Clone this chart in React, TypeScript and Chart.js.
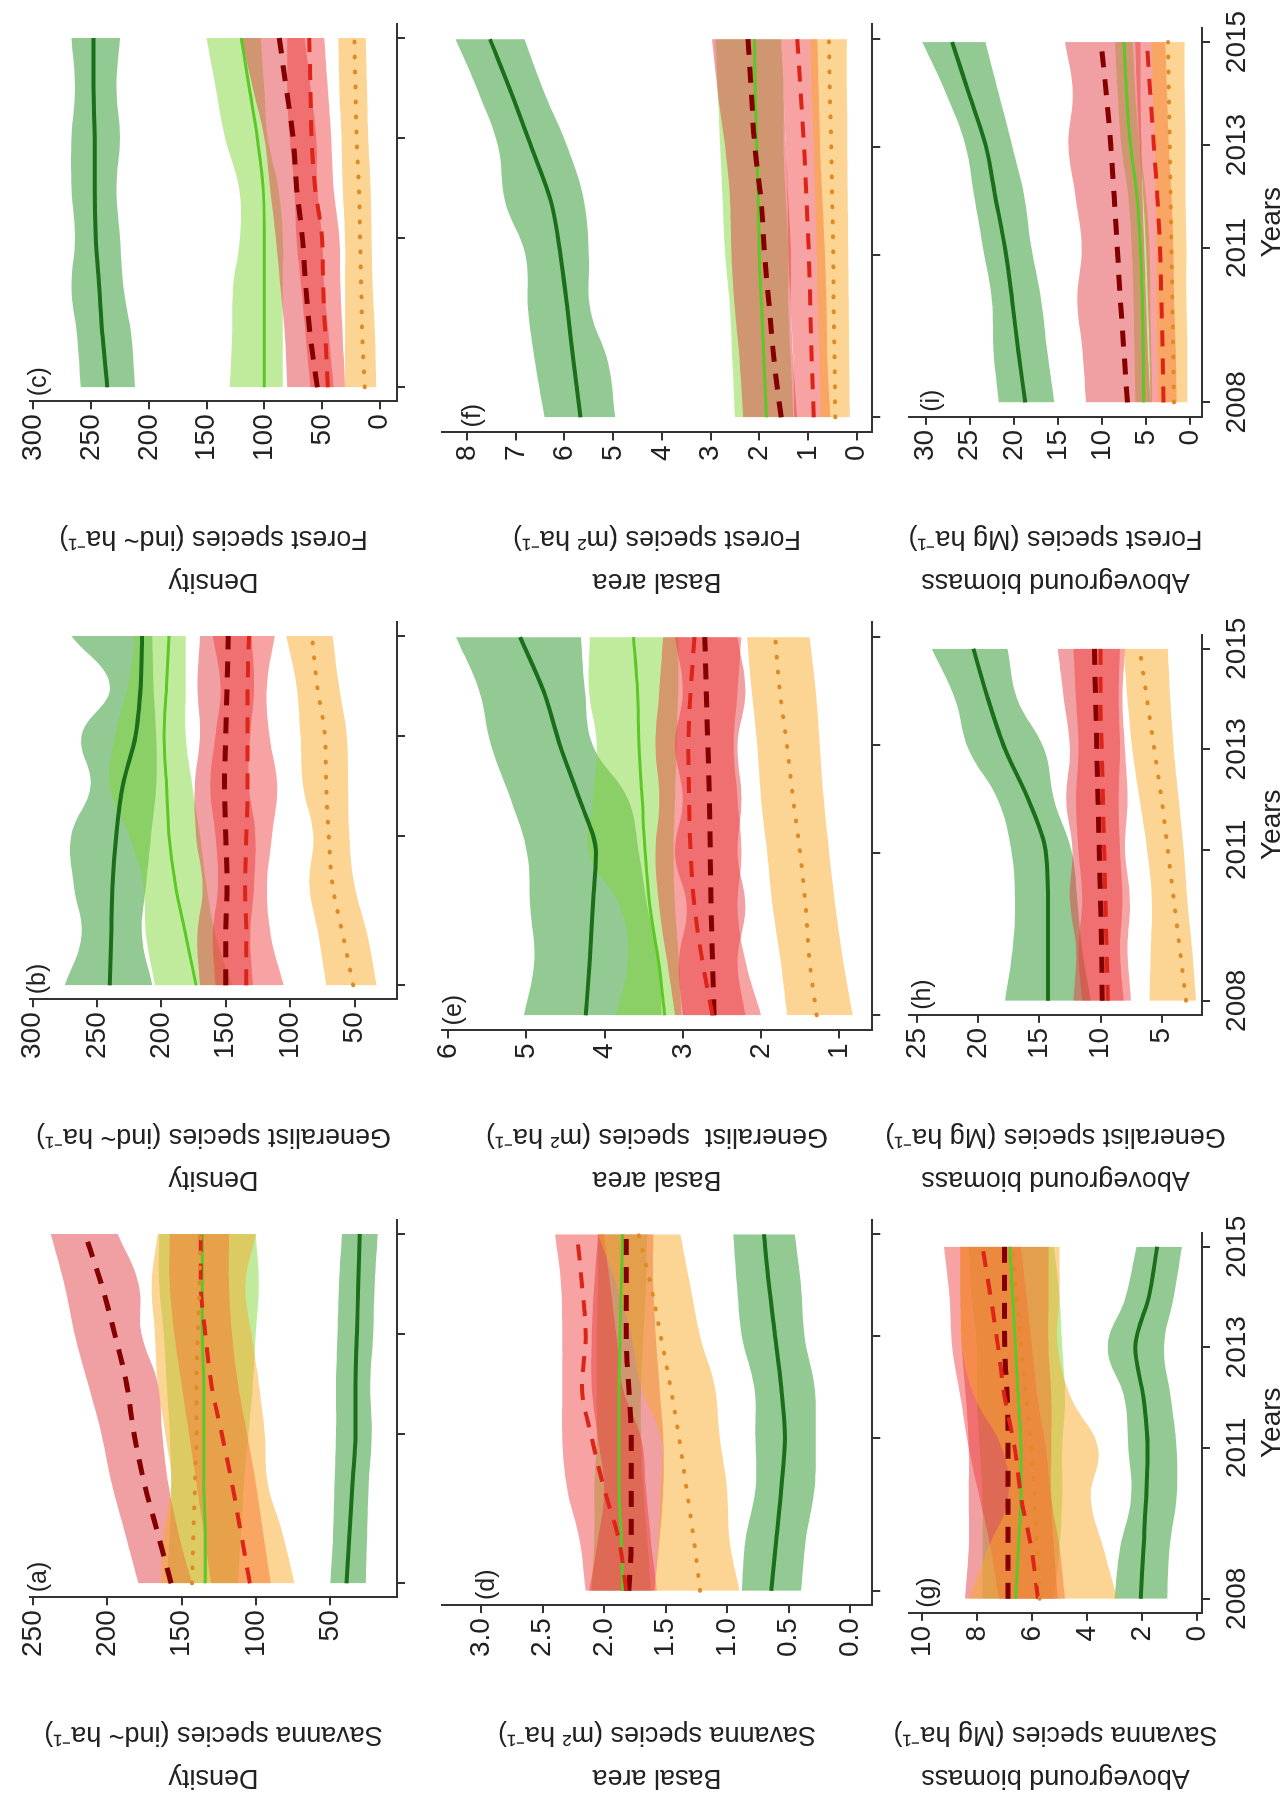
import React, { useEffect, useRef } from "react";
import { Chart, registerables } from "chart.js";

Chart.register(...registerables);

const FONT = '"Liberation Sans", Arial, Helvetica, sans-serif';
Chart.defaults.font.family = FONT;

// ---------- data ----------
const YEARS = [2008, 2009, 2010, 2011, 2012, 2013, 2014, 2015];
const YEAR_TICKS = [2008, 2011, 2013, 2015];

// (a) Density – savanna species
const A_TICKS = [50, 100, 150, 200, 250];
const A_DG = [39, 37, 35, 33, 33, 32, 31, 30];
const A_DG_LO = [26, 25, 24, 22, 23, 21, 20, 18];
const A_DG_HI = [50, 48, 47, 46, 46, 45, 44, 42];
const A_LG = [134, 134, 135, 135, 135, 136, 136, 136];
const A_LG_LO = [112, 110, 108, 105, 102, 100, 98, 100];
const A_LG_HI = [160, 158, 157, 158, 160, 162, 165, 165];
const A_DR = [157, 166, 175, 182, 187, 195, 204, 215];
const A_DR_LO = [143, 152, 159, 163, 166, 177, 179, 193];
const A_DR_HI = [179, 188, 197, 204, 213, 222, 229, 238];
const A_RD = [104, 110, 116, 123, 130, 134, 137, 137];
const A_RD_LO = [90, 95, 100, 106, 112, 116, 118, 118];
const A_RD_HI = [130, 135, 140, 145, 150, 155, 158, 158];
const A_OR = [143, 142, 141, 140, 140, 139, 138, 137];
const A_OR_LO = [74, 82, 92, 94, 98, 103, 107, 100];
const A_OR_HI = [164, 162, 157, 161, 166, 168, 170, 166];

// (b) Density – generalist species
const B_TICKS = [50, 100, 150, 200, 250, 300];
const B_DG = [240, 239, 238, 235, 230, 220, 216, 215];
const B_DG_LO = [207, 215, 212, 208, 204, 204, 206, 207];
const B_DG_HI = [275, 262, 268, 270, 255, 262, 240, 270];
const B_LG = [173, 181, 189, 194, 196, 198, 196, 194];
const B_LG_LO = [145, 158, 165, 170, 176, 181, 181, 181];
const B_LG_HI = [205, 212, 214, 225, 240, 236, 226, 220];
const B_DR = [150, 150, 149, 150, 151, 150, 149, 148];
const B_DR_LO = [129, 131, 128, 127, 132, 131, 128, 130];
const B_DR_HI = [170, 172, 168, 173, 174, 170, 172, 170];
const B_RD = [134, 134, 135, 134, 133, 133, 133, 132];
const B_RD_LO = [105, 115, 118, 114, 110, 116, 118, 112];
const B_RD_HI = [158, 160, 156, 158, 162, 158, 154, 160];
const B_OR = [51, 59, 67, 70, 72, 73, 79, 83];
const B_OR_LO = [33, 40, 50, 54, 55, 56, 62, 67];
const B_OR_HI = [72, 78, 85, 82, 90, 92, 95, 103];

// (c) Density – forest species
const C_TICKS = [0, 50, 100, 150, 200, 250, 300];
const C_DG = [236, 240, 243, 246, 247, 247, 248, 248];
const C_DG_LO = [212, 215, 222, 225, 228, 225, 228, 225];
const C_DG_HI = [259, 262, 267, 264, 267, 267, 264, 267];
const C_LG = [100, 100, 100, 100, 101, 106, 113, 120];
const C_LG_LO = [84, 84, 84, 84, 88, 97, 100, 103];
const C_LG_HI = [130, 128, 127, 121, 122, 134, 142, 150];
const C_DR = [54, 60, 64, 67, 72, 75, 81, 87];
const C_DR_LO = [40, 44, 48, 50, 54, 55, 60, 65];
const C_DR_HI = [80, 82, 86, 90, 95, 100, 110, 120];
const C_RD = [45, 47, 49, 50, 56, 59, 60, 61];
const C_RD_LO = [30, 32, 34, 35, 40, 42, 45, 48];
const C_RD_HI = [60, 64, 68, 72, 74, 78, 80, 80];
const C_OR = [13, 15, 16, 17, 18, 20, 21, 22];
const C_OR_LO = [3, 4, 6, 7, 8, 10, 11, 12];
const C_OR_HI = [30, 30, 30, 30, 32, 33, 35, 36];

// (d) Basal area – savanna species
const D_TICKS = [0, 0.5, 1, 1.5, 2, 2.5, 3];
const D_DG = [0.64, 0.6, 0.56, 0.53, 0.56, 0.61, 0.66, 0.7];
const D_DG_LO = [0.4, 0.36, 0.29, 0.28, 0.29, 0.37, 0.4, 0.45];
const D_DG_HI = [0.88, 0.85, 0.77, 0.77, 0.78, 0.88, 0.92, 0.95];
const D_LG = [1.85, 1.86, 1.88, 1.88, 1.88, 1.87, 1.86, 1.85];
const D_LG_LO = [1.62, 1.65, 1.68, 1.7, 1.7, 1.68, 1.66, 1.65];
const D_LG_HI = [2.1, 2.08, 2.08, 2.06, 2.06, 2.06, 2.05, 2.05];
const D_DR = [1.8, 1.78, 1.78, 1.78, 1.8, 1.82, 1.82, 1.82];
const D_DR_LO = [1.59, 1.55, 1.52, 1.52, 1.55, 1.58, 1.6, 1.6];
const D_DR_HI = [2.12, 2.05, 2.0, 2.05, 2.1, 2.1, 2.08, 2.05];
const D_RD = [1.82, 1.88, 2.0, 2.1, 2.18, 2.15, 2.18, 2.22];
const D_RD_LO = [1.57, 1.62, 1.66, 1.7, 1.85, 1.9, 1.95, 2.0];
const D_RD_HI = [2.15, 2.2, 2.3, 2.34, 2.34, 2.34, 2.35, 2.4];
const D_OR = [1.22, 1.27, 1.33, 1.39, 1.46, 1.54, 1.62, 1.72];
const D_OR_LO = [0.9, 0.98, 1.0, 1.06, 1.1, 1.22, 1.3, 1.38];
const D_OR_HI = [1.59, 1.56, 1.54, 1.54, 1.7, 1.78, 1.9, 2.05];

// (e) Basal area – generalist species
const E_TICKS = [1, 2, 3, 4, 5, 6];
const E_DG = [4.24, 4.19, 4.15, 4.11, 4.32, 4.57, 4.78, 5.08];
const E_DG_LO = [3.27, 3.3, 3.45, 3.56, 3.7, 4.15, 4.25, 4.3];
const E_DG_HI = [5.03, 4.9, 4.95, 4.99, 5.2, 5.45, 5.6, 5.9];
const E_LG = [3.23, 3.31, 3.42, 3.48, 3.52, 3.56, 3.58, 3.63];
const E_LG_LO = [3.02, 3.05, 3.1, 3.12, 3.1, 3.08, 3.06, 3.06];
const E_LG_HI = [3.86, 3.7, 3.8, 4.2, 4.15, 4.1, 4.2, 4.19];
const E_DR = [2.6, 2.62, 2.64, 2.65, 2.66, 2.68, 2.7, 2.72];
const E_DR_LO = [2.2, 2.3, 2.2, 2.3, 2.25, 2.3, 2.2, 2.3];
const E_DR_HI = [3.0, 3.05, 2.95, 3.1, 3.0, 3.1, 3.0, 3.1];
const E_RD = [2.62, 2.75, 2.85, 2.9, 2.92, 2.93, 2.9, 2.85];
const E_RD_LO = [2.0, 2.2, 2.3, 2.25, 2.3, 2.35, 2.3, 2.25];
const E_RD_HI = [3.1, 3.2, 3.3, 3.35, 3.3, 3.35, 3.3, 3.25];
const E_OR = [1.29, 1.38, 1.43, 1.5, 1.59, 1.67, 1.76, 1.82];
const E_OR_LO = [0.83, 0.95, 1.05, 1.13, 1.2, 1.25, 1.3, 1.38];
const E_OR_HI = [1.67, 1.75, 1.85, 1.92, 2.0, 2.05, 2.12, 2.18];

// (f) Basal area – forest species
const F_TICKS = [0, 1, 2, 3, 4, 5, 6, 7, 8];
const F_DG = [5.67, 5.81, 5.94, 6.08, 6.28, 6.68, 7.09, 7.53];
const F_DG_LO = [4.96, 5.1, 5.47, 5.5, 5.6, 5.94, 6.41, 6.82];
const F_DG_HI = [6.41, 6.6, 6.75, 6.8, 7.22, 7.36, 7.76, 8.24];
const F_LG = [1.85, 1.9, 1.95, 2.0, 2.02, 2.05, 2.08, 2.1];
const F_LG_LO = [1.3, 1.35, 1.4, 1.4, 1.45, 1.5, 1.5, 1.55];
const F_LG_HI = [2.5, 2.55, 2.6, 2.7, 2.75, 2.8, 2.85, 2.9];
const F_DR = [1.55, 1.69, 1.79, 1.89, 1.96, 2.09, 2.16, 2.23];
const F_DR_LO = [1.22, 1.3, 1.35, 1.35, 1.4, 1.45, 1.5, 1.55];
const F_DR_HI = [2.33, 2.4, 2.5, 2.57, 2.6, 2.7, 2.85, 2.97];
const F_RD = [0.88, 0.92, 0.95, 0.98, 1.03, 1.08, 1.15, 1.22];
const F_RD_LO = [0.54, 0.6, 0.62, 0.65, 0.7, 0.75, 0.78, 0.81];
const F_RD_HI = [1.28, 1.3, 1.35, 1.4, 1.42, 1.45, 1.5, 1.55];
const F_OR = [0.44, 0.45, 0.47, 0.48, 0.5, 0.52, 0.55, 0.57];
const F_OR_LO = [0.14, 0.15, 0.16, 0.17, 0.18, 0.19, 0.2, 0.2];
const F_OR_HI = [0.74, 0.76, 0.8, 0.82, 0.85, 0.88, 0.92, 0.95];

// (g) Aboveground biomass – savanna species
const G_TICKS = [0, 2, 4, 6, 8, 10];
const G_DG = [2.05, 1.95, 1.85, 1.8, 1.95, 2.25, 1.75, 1.45];
const G_DG_LO = [1.08, 1.0, 0.75, 0.75, 0.96, 1.2, 0.85, 0.55];
const G_DG_HI = [3.0, 2.8, 2.4, 2.5, 2.65, 3.25, 2.6, 2.2];
const G_LG = [6.6, 6.5, 6.4, 6.4, 6.5, 6.6, 6.7, 6.8];
const G_LG_LO = [5.2, 5.0, 4.9, 4.9, 4.8, 4.9, 5.0, 5.2];
const G_LG_HI = [7.8, 7.8, 7.8, 7.9, 8.0, 8.0, 8.2, 8.3];
const G_DR = [6.87, 6.87, 6.87, 6.87, 6.9, 6.99, 7.0, 7.0];
const G_DR_LO = [5.06, 5.2, 5.3, 5.3, 5.3, 5.4, 5.4, 5.4];
const G_DR_HI = [8.43, 8.3, 8.3, 8.3, 8.4, 8.55, 8.6, 8.6];
const G_RD = [5.78, 6.02, 6.39, 6.63, 6.99, 7.23, 7.5, 7.8];
const G_RD_LO = [4.8, 5.0, 5.3, 5.5, 5.8, 6.0, 6.2, 6.4];
const G_RD_HI = [7.2, 7.5, 7.9, 8.3, 8.6, 8.9, 9.0, 9.2];
const G_OR = [5.72, 5.8, 5.9, 6.02, 6.2, 6.39, 6.55, 6.7];
const G_OR_LO = [2.9, 3.4, 3.86, 3.6, 4.58, 5.06, 5.0, 5.0];
const G_OR_HI = [8.3, 7.6, 6.87, 7.1, 8.07, 8.55, 8.6, 8.6];

// (h) Aboveground biomass – generalist species
const H_TICKS = [5, 10, 15, 20, 25];
const H_DG = [14.3, 14.3, 14.3, 14.5, 15.9, 17.8, 19.2, 20.4];
const H_DG_LO = [10.8, 11.5, 11.9, 12.4, 13.8, 14.6, 16.8, 17.6];
const H_DG_HI = [17.8, 17.2, 17.0, 17.3, 18.4, 20.8, 21.9, 23.8];
const H_DR = [9.86, 9.9, 10.0, 10.1, 10.2, 10.3, 10.4, 10.5];
const H_DR_LO = [8.1, 8.4, 8.2, 8.4, 8.5, 8.4, 8.5, 8.4];
const H_DR_HI = [12.2, 12.0, 12.5, 12.3, 12.8, 12.5, 13.0, 13.5];
const H_RD = [9.4, 9.5, 9.6, 9.7, 9.8, 9.9, 10.0, 10.0];
const H_RD_LO = [7.5, 7.8, 7.6, 8.0, 7.8, 8.0, 8.2, 8.0];
const H_RD_HI = [11.5, 11.8, 11.5, 11.8, 12.0, 11.8, 12.0, 12.2];
const H_OR = [3.0, 3.5, 4.0, 4.5, 5.0, 5.6, 6.2, 6.8];
const H_OR_LO = [2.2, 2.5, 2.9, 3.2, 3.6, 4.0, 4.3, 4.5];
const H_OR_HI = [6.0, 5.9, 5.8, 6.2, 6.8, 7.4, 7.8, 8.1];

// (i) Aboveground biomass – forest species
const I_TICKS = [0, 5, 10, 15, 20, 25, 30];
const I_DG = [18.7, 19.5, 20.2, 21.0, 22.1, 23.2, 25.1, 27.0];
const I_DG_LO = [15.4, 16.2, 16.9, 18.0, 18.8, 20.2, 21.7, 23.2];
const I_DG_HI = [21.7, 22.3, 22.5, 23.5, 24.5, 25.5, 27.7, 30.4];
const I_LG = [5.25, 5.3, 5.4, 5.6, 6.0, 6.75, 7.2, 7.5];
const I_LG_LO = [4.3, 4.4, 4.5, 4.6, 5.0, 5.7, 6.2, 6.5];
const I_LG_HI = [6.2, 6.3, 6.4, 6.6, 7.0, 7.8, 8.2, 8.5];
const I_DR = [7.1, 7.5, 7.9, 8.25, 8.6, 9.0, 9.5, 10.1];
const I_DR_LO = [4.5, 4.8, 5.0, 5.2, 5.4, 5.5, 5.6, 5.6];
const I_DR_HI = [11.8, 12.2, 12.8, 12.3, 13.0, 13.8, 13.3, 14.2];
const I_RD = [3.0, 3.1, 3.25, 3.4, 3.7, 4.1, 4.5, 4.9];
const I_RD_LO = [1.5, 1.6, 1.8, 1.9, 2.1, 2.4, 2.6, 2.8];
const I_RD_HI = [4.5, 4.6, 4.8, 5.0, 5.3, 5.7, 6.0, 6.2];
const I_OR = [1.8, 1.9, 2.0, 2.1, 2.2, 2.3, 2.4, 2.5];
const I_OR_LO = [0.3, 0.3, 0.4, 0.4, 0.5, 0.5, 0.6, 0.6];
const I_OR_HI = [3.6, 3.7, 3.8, 3.8, 3.9, 4.0, 4.2, 4.4];

// ---------- styles & layout (original landscape figure, later rotated) ----------
type Key = "DG" | "LG" | "DR" | "RD" | "OR";
const ORDER: Key[] = ["DG", "LG", "DR", "RD", "OR"];
const STYLES: Record<Key, { band: string; line: string; width: number; dash: number[]; cap: CanvasLineCap }> = {
  DG: { band: "rgba(40,150,40,0.5)", line: "#1b6f1b", width: 4, dash: [], cap: "butt" },
  LG: { band: "rgba(130,215,60,0.5)", line: "#5cc828", width: 3, dash: [], cap: "butt" },
  DR: { band: "rgba(225,65,70,0.5)", line: "#840000", width: 5, dash: [16, 12], cap: "butt" },
  RD: { band: "rgba(240,50,50,0.45)", line: "#dc2418", width: 4, dash: [16, 12], cap: "butt" },
  OR: { band: "rgba(250,170,40,0.5)", line: "#e08a26", width: 4, dash: [1, 14], cap: "round" },
};

const COLS = [
  { x: 0, w: 598, padRight: 15 },
  { x: 598, w: 598, padRight: 15 },
  { x: 1196, w: 607, padRight: 24 },
];
const ROWS = [
  { y: 0, h: 420, padTop: 30, xAxisH: 23, years: false },
  { y: 420, h: 474, padTop: 13, xAxisH: 20, years: false },
  { y: 860, h: 423, padTop: 49, xAxisH: 81, years: true },
];

type Panel = {
  key: string; row: number; col: number; title: string[];
  yMin: number; yMax: number; yTicks: number[]; dec: number;
  series: Partial<Record<Key, number[][]>>;
};

const PANELS: Panel[] = [
  { key: "(a)", row: 0, col: 0, title: ["Density", "Savanna species (ind~ ha⁻¹)"], yMin: 5, yMax: 252, yTicks: A_TICKS, dec: 0,
    series: { DG: [A_DG, A_DG_LO, A_DG_HI], LG: [A_LG, A_LG_LO, A_LG_HI], DR: [A_DR, A_DR_LO, A_DR_HI], RD: [A_RD, A_RD_LO, A_RD_HI], OR: [A_OR, A_OR_LO, A_OR_HI] } },
  { key: "(b)", row: 0, col: 1, title: ["Density", "Generalist species (ind~ ha⁻¹)"], yMin: 17, yMax: 302, yTicks: B_TICKS, dec: 0,
    series: { DG: [B_DG, B_DG_LO, B_DG_HI], LG: [B_LG, B_LG_LO, B_LG_HI], DR: [B_DR, B_DR_LO, B_DR_HI], RD: [B_RD, B_RD_LO, B_RD_HI], OR: [B_OR, B_OR_LO, B_OR_HI] } },
  { key: "(c)", row: 0, col: 2, title: ["Density", "Forest species (ind~ ha⁻¹)"], yMin: -15, yMax: 303, yTicks: C_TICKS, dec: 0,
    series: { DG: [C_DG, C_DG_LO, C_DG_HI], LG: [C_LG, C_LG_LO, C_LG_HI], DR: [C_DR, C_DR_LO, C_DR_HI], RD: [C_RD, C_RD_LO, C_RD_HI], OR: [C_OR, C_OR_LO, C_OR_HI] } },
  { key: "(d)", row: 1, col: 0, title: ["Basal area", "Savanna species (m² ha⁻¹)"], yMin: -0.18, yMax: 3.32, yTicks: D_TICKS, dec: 1,
    series: { DG: [D_DG, D_DG_LO, D_DG_HI], LG: [D_LG, D_LG_LO, D_LG_HI], DR: [D_DR, D_DR_LO, D_DR_HI], RD: [D_RD, D_RD_LO, D_RD_HI], OR: [D_OR, D_OR_LO, D_OR_HI] } },
  { key: "(e)", row: 1, col: 1, title: ["Basal area", "Generalist  species (m² ha⁻¹)"], yMin: 0.58, yMax: 6.08, yTicks: E_TICKS, dec: 0,
    series: { DG: [E_DG, E_DG_LO, E_DG_HI], LG: [E_LG, E_LG_LO, E_LG_HI], DR: [E_DR, E_DR_LO, E_DR_HI], RD: [E_RD, E_RD_LO, E_RD_HI], OR: [E_OR, E_OR_LO, E_OR_HI] } },
  { key: "(f)", row: 1, col: 2, title: ["Basal area", "Forest species (m² ha⁻¹)"], yMin: -0.32, yMax: 8.52, yTicks: F_TICKS, dec: 0,
    series: { DG: [F_DG, F_DG_LO, F_DG_HI], LG: [F_LG, F_LG_LO, F_LG_HI], DR: [F_DR, F_DR_LO, F_DR_HI], RD: [F_RD, F_RD_LO, F_RD_HI], OR: [F_OR, F_OR_LO, F_OR_HI] } },
  { key: "(g)", row: 2, col: 0, title: ["Aboveground biomass", "Savanna species (Mg ha⁻¹)"], yMin: -0.18, yMax: 10.47, yTicks: G_TICKS, dec: 0,
    series: { DG: [G_DG, G_DG_LO, G_DG_HI], LG: [G_LG, G_LG_LO, G_LG_HI], DR: [G_DR, G_DR_LO, G_DR_HI], RD: [G_RD, G_RD_LO, G_RD_HI], OR: [G_OR, G_OR_LO, G_OR_HI] } },
  { key: "(h)", row: 2, col: 1, title: ["Aboveground biomass", "Generalist species (Mg ha⁻¹)"], yMin: 1.7, yMax: 25.66, yTicks: H_TICKS, dec: 0,
    series: { DG: [H_DG, H_DG_LO, H_DG_HI], DR: [H_DR, H_DR_LO, H_DR_HI], RD: [H_RD, H_RD_LO, H_RD_HI], OR: [H_OR, H_OR_LO, H_OR_HI] } },
  { key: "(i)", row: 2, col: 2, title: ["Aboveground biomass", "Forest species (Mg ha⁻¹)"], yMin: -1.37, yMax: 31.9, yTicks: I_TICKS, dec: 0,
    series: { DG: [I_DG, I_DG_LO, I_DG_HI], LG: [I_LG, I_LG_LO, I_LG_HI], DR: [I_DR, I_DR_LO, I_DR_HI], RD: [I_RD, I_RD_LO, I_RD_HI], OR: [I_OR, I_OR_LO, I_OR_HI] } },
];

const AXIS = "#333333";
const TEXT = "#222222";

const panelLabelPlugin = {
  id: "panelLabel",
  afterDraw(chart: any, _args: any, opts: any) {
    const { ctx, chartArea, scales } = chart;
    const y = scales.y.getPixelForValue(opts.tick) + 6;
    ctx.save();
    ctx.font = `25px ${FONT}`;
    ctx.fillStyle = TEXT;
    ctx.textAlign = "left";
    ctx.textBaseline = "middle";
    ctx.fillText(opts.text, chartArea.left + 5, y);
    ctx.restore();
  },
};

const pts = (vals: number[]) => YEARS.map((x, i) => ({ x, y: vals[i] }));

function buildConfig(p: Panel): any {
  const row = ROWS[p.row];
  const col = COLS[p.col];
  const datasets: any[] = [];
  ORDER.forEach((k, idx) => {
    const s = p.series[k];
    if (!s) return;
    const st = STYLES[k];
    datasets.push({ data: pts(s[2]), fill: "+1", backgroundColor: st.band, borderColor: "transparent", borderWidth: 0, pointRadius: 0, tension: 0.4, order: 20 - idx });
    datasets.push({ data: pts(s[1]), fill: false, borderColor: "transparent", borderWidth: 0, pointRadius: 0, tension: 0.4, order: 20 - idx });
  });
  ORDER.forEach((k, idx) => {
    const s = p.series[k];
    if (!s) return;
    const st = STYLES[k];
    datasets.push({ data: pts(s[0]), fill: false, borderColor: st.line, borderWidth: st.width, borderDash: st.dash, borderCapStyle: st.cap, pointRadius: 0, cubicInterpolationMode: "monotone", order: 10 - idx });
  });
  const grid = { display: true, drawOnChartArea: false, drawTicks: true, tickLength: 8, color: AXIS, tickColor: AXIS, lineWidth: 2 };
  const border = { display: true, color: AXIS, width: 2 };
  return {
    type: "line",
    data: { datasets },
    plugins: [panelLabelPlugin],
    options: {
      animation: false,
      responsive: false,
      events: [],
      layout: { autoPadding: false, padding: { top: row.padTop, right: col.padRight, bottom: 0, left: 0 } },
      plugins: {
        legend: { display: false },
        tooltip: { enabled: false },
        panelLabel: { text: p.key, tick: p.yTicks[p.yTicks.length - 1] },
      },
      scales: {
        x: {
          type: "linear",
          min: 2007.72,
          max: 2015.28,
          afterBuildTicks: (s: any) => { s.ticks = YEAR_TICKS.map((v) => ({ value: v })); },
          afterFit: (s: any) => { s.height = row.xAxisH; },
          ticks: { display: row.years, font: { size: 28 }, color: TEXT, padding: 10, maxRotation: 0, autoSkip: false, callback: (v: any) => String(v) },
          grid, border,
          title: { display: row.years, text: "Years", font: { size: 28, lineHeight: 0.8 }, color: TEXT, padding: 0 },
        },
        y: {
          type: "linear",
          min: p.yMin,
          max: p.yMax,
          afterBuildTicks: (s: any) => { s.ticks = p.yTicks.map((v) => ({ value: v })); },
          ticks: { font: { size: 28 }, color: TEXT, padding: 5, callback: (v: any) => (p.dec ? Number(v).toFixed(p.dec) : String(v)) },
          grid, border,
          title: { display: true, text: p.title, font: { size: 27, lineHeight: 43 / 27 }, color: TEXT, padding: { top: 4, bottom: 51 } },
        },
      },
    },
  };
}

export default function App() {
  const refs = useRef<(HTMLCanvasElement | null)[]>([]);
  useEffect(() => {
    document.body.style.margin = "0";
    document.documentElement.style.overflow = "hidden";
    const charts = PANELS.map((p, i) => new Chart(refs.current[i] as HTMLCanvasElement, buildConfig(p)));
    return () => charts.forEach((c) => c.destroy());
  }, []);
  return (
    <div
      style={{
        position: "absolute", left: 0, top: 0, width: 1803, height: 1283, background: "#ffffff",
        transformOrigin: "0 0", transform: "translate(0px, 1803px) rotate(-90deg)",
      }}
    >
      {PANELS.map((p, i) => {
        const c = COLS[p.col];
        const r = ROWS[p.row];
        return (
          <canvas
            key={p.key}
            ref={(el) => { refs.current[i] = el; }}
            width={c.w}
            height={r.h}
            style={{ position: "absolute", left: c.x, top: r.y, width: c.w, height: r.h }}
          />
        );
      })}
    </div>
  );
}
